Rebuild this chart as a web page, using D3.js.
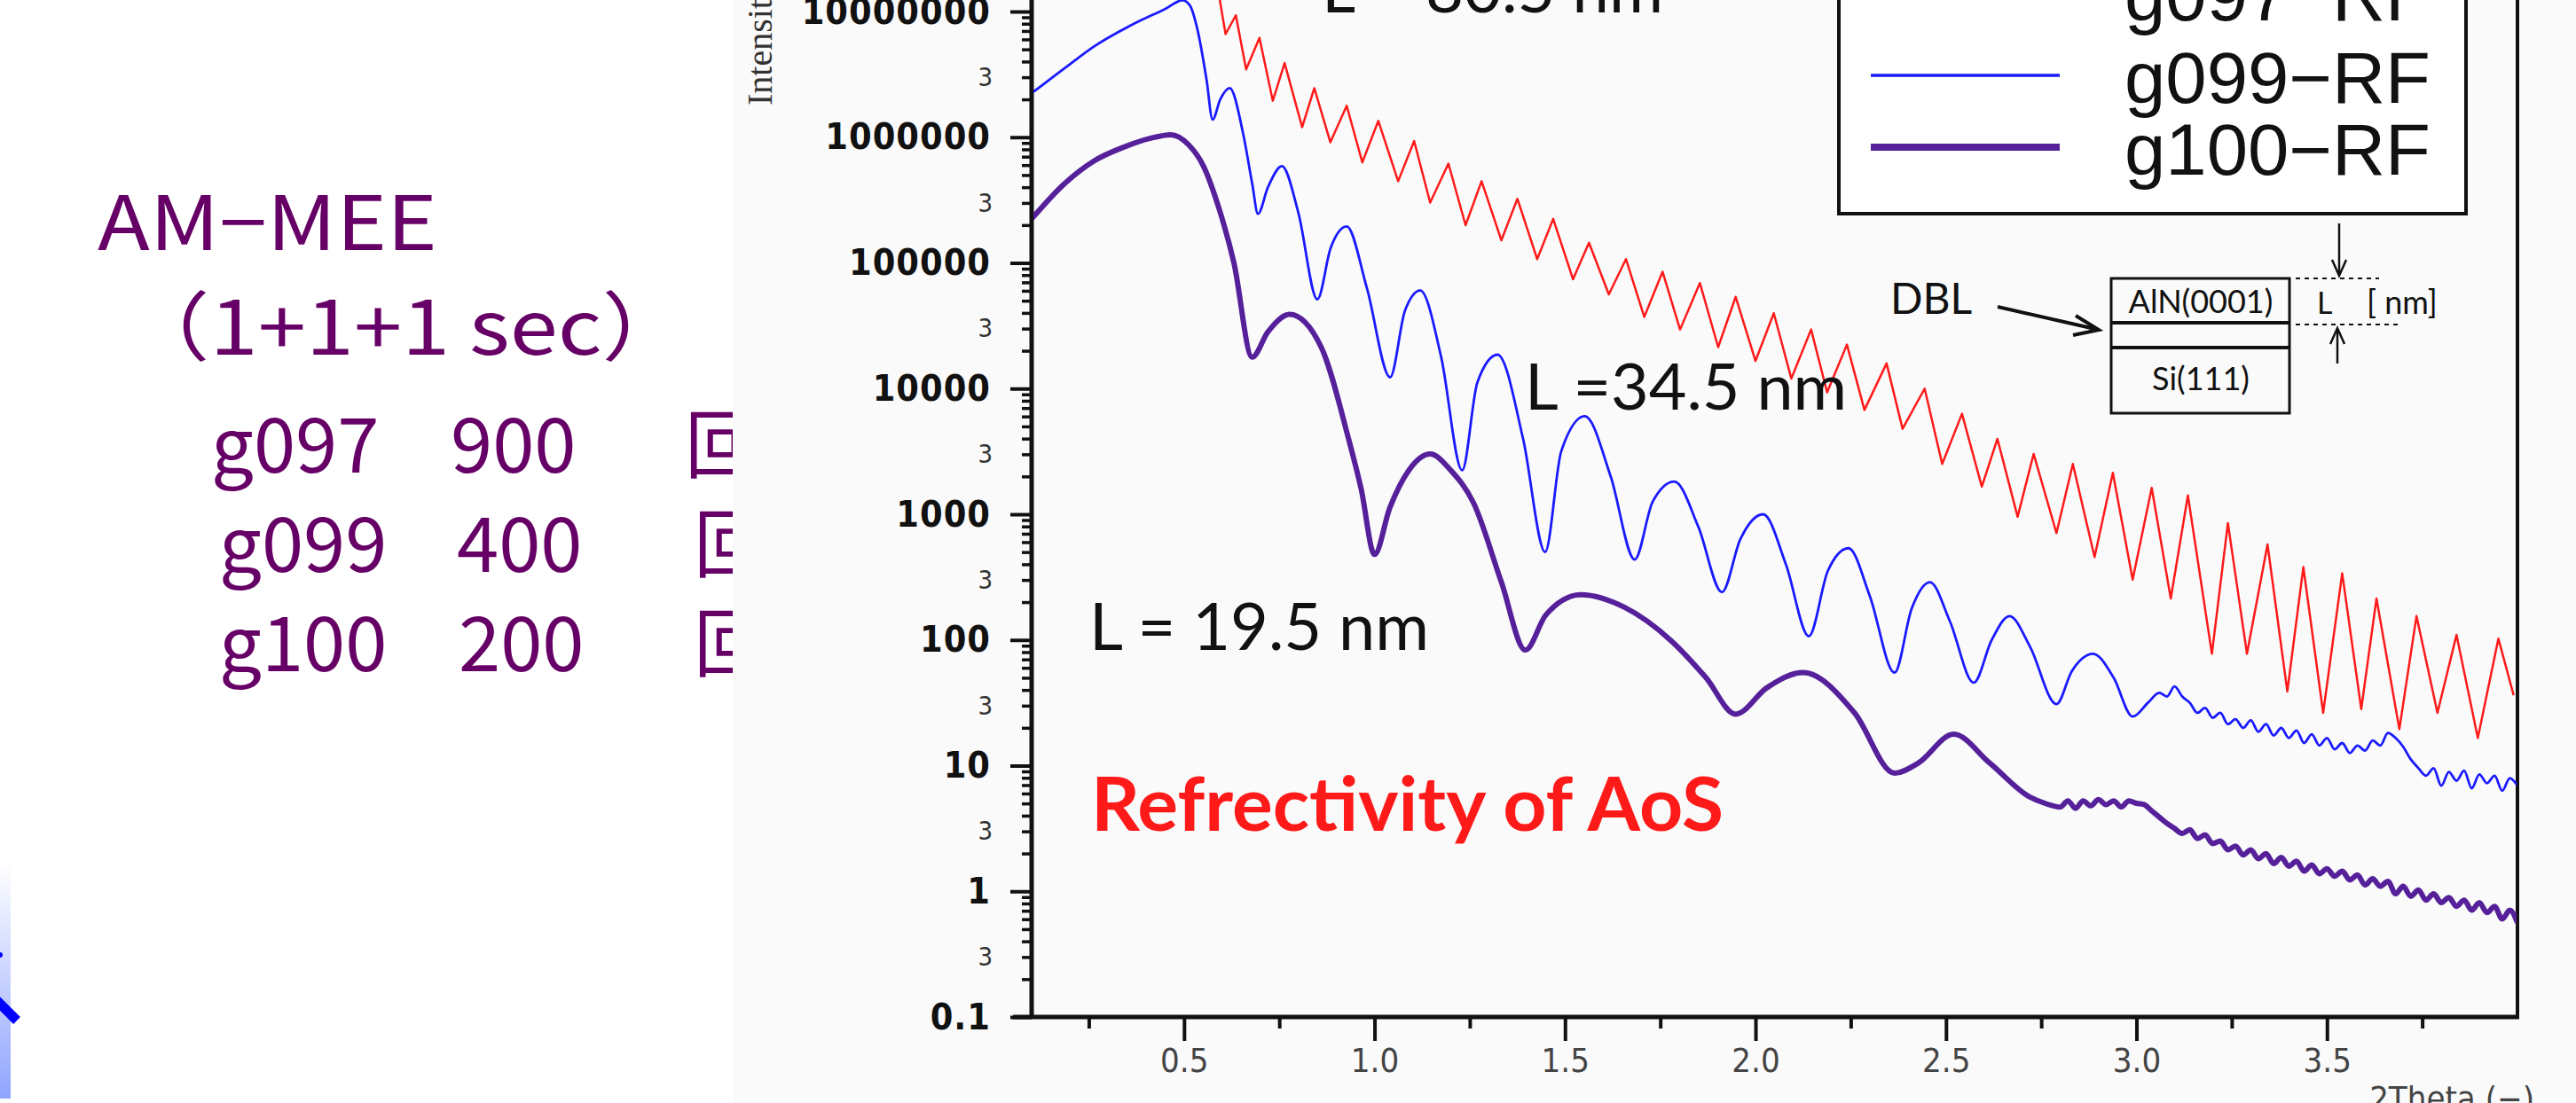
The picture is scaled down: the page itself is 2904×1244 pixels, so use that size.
<!DOCTYPE html>
<html>
<head>
<meta charset="utf-8">
<script src="https://d3js.org/d3.v7.min.js"></script>
<style>
  body { margin: 0; background: #fff; }
  svg { display: block; }
  .slide { fill: #660066; font-family: "Noto Sans CJK JP", "Noto Sans", sans-serif; font-size: 85px; }
  .tick text { font-family: "DejaVu Sans Condensed", "DejaVu Sans", sans-serif; }
  .note { font-family: Lato, "Open Sans", sans-serif; fill: #111; }
</style>
</head>
<body>
<svg id="chart" width="2904" height="1244"></svg>
<script>
// ---- data (2Theta in degrees, log10 of intensity in cps) ----
const seriesNames = ["g097\u2212RF", "g099\u2212RF", "g100\u2212RF"];
const seriesColors = ["#ff1a1a", "#1a1aff", "#55209a"];

const g097Log = [
  [0.56, 7.5], [0.594, 7.09], [0.609, 6.82], [0.636, 6.97], [0.663, 6.54], [0.698, 6.79],
  [0.733, 6.29], [0.764, 6.59], [0.81, 6.08], [0.842, 6.39], [0.884, 5.96], [0.927, 6.25],
  [0.968, 5.80], [1.010, 6.13], [1.062, 5.65], [1.104, 5.97], [1.146, 5.48], [1.194, 5.79],
  [1.239, 5.30], [1.281, 5.65], [1.333, 5.18], [1.375, 5.51], [1.427, 5.03], [1.469, 5.35],
  [1.521, 4.87], [1.563, 5.16], [1.615, 4.75], [1.660, 5.03], [1.708, 4.57], [1.756, 4.93],
  [1.802, 4.47], [1.854, 4.84], [1.902, 4.33], [1.948, 4.73], [2.000, 4.22], [2.048, 4.60],
  [2.094, 4.08], [2.146, 4.47], [2.188, 3.97], [2.240, 4.35], [2.286, 3.83], [2.344, 4.20],
  [2.386, 3.68], [2.444, 4.00], [2.490, 3.40], [2.542, 3.80], [2.594, 3.22], [2.635, 3.60],
  [2.688, 2.98], [2.730, 3.48], [2.790, 2.85], [2.833, 3.40], [2.890, 2.66], [2.938, 3.33],
  [2.990, 2.48], [3.040, 3.21], [3.090, 2.33], [3.135, 3.15], [3.198, 1.89], [3.240, 2.93],
  [3.290, 1.89], [3.344, 2.76], [3.396, 1.59], [3.438, 2.58], [3.490, 1.42], [3.540, 2.53],
  [3.590, 1.45], [3.630, 2.33], [3.690, 1.29], [3.735, 2.19], [3.790, 1.42], [3.840, 2.04],
  [3.896, 1.22], [3.950, 2.01], [3.990, 1.56]
];

const g099Log = [
  [0.1, 6.35], [0.2, 6.58], [0.263, 6.72], [0.38, 6.92], [0.45, 7.02], [0.496, 7.09],
  [0.515, 7.05], [0.535, 6.86], [0.559, 6.46], [0.575, 6.14], [0.595, 6.30], [0.62, 6.39],
  [0.655, 6.03], [0.679, 5.63], [0.694, 5.39], [0.72, 5.60], [0.757, 5.77], [0.80, 5.40],
  [0.85, 4.71], [0.885, 5.12], [0.927, 5.29], [0.98, 4.80], [1.041, 4.09], [1.08, 4.62],
  [1.12, 4.78], [1.175, 4.25], [1.23, 3.35], [1.27, 4.05], [1.323, 4.27], [1.39, 3.60],
  [1.448, 2.70], [1.49, 3.50], [1.552, 3.78], [1.62, 3.30], [1.683, 2.64], [1.73, 3.10],
  [1.787, 3.26], [1.85, 2.90], [1.912, 2.38], [1.96, 2.80], [2.02, 3.00], [2.08, 2.60],
  [2.14, 2.03], [2.19, 2.55], [2.244, 2.73], [2.30, 2.35], [2.365, 1.74], [2.41, 2.25],
  [2.458, 2.46], [2.51, 2.15], [2.573, 1.66], [2.62, 2.00], [2.667, 2.19], [2.72, 1.95],
  [2.79, 1.49], [2.83, 1.75], [2.886, 1.89], [2.94, 1.70], [2.99, 1.39], [3.03, 1.50],
  [3.06, 1.58], [3.08, 1.55], [3.10, 1.63], [3.12, 1.55], [3.14, 1.50], [3.16, 1.42],
  [3.18, 1.46], [3.20, 1.38], [3.22, 1.42], [3.24, 1.33], [3.26, 1.37], [3.28, 1.30],
  [3.30, 1.36], [3.32, 1.27], [3.34, 1.33], [3.36, 1.24], [3.38, 1.30], [3.40, 1.22],
  [3.42, 1.28], [3.44, 1.18], [3.46, 1.25], [3.48, 1.16], [3.50, 1.22], [3.52, 1.13],
  [3.54, 1.18], [3.56, 1.10], [3.58, 1.16], [3.60, 1.12], [3.62, 1.20], [3.64, 1.16],
  [3.66, 1.26], [3.68, 1.22], [3.70, 1.15], [3.72, 1.05], [3.74, 0.98], [3.76, 0.92],
  [3.78, 0.98], [3.80, 0.84], [3.82, 0.95], [3.84, 0.88], [3.86, 0.96], [3.88, 0.82],
  [3.90, 0.93], [3.92, 0.86], [3.94, 0.92], [3.96, 0.80], [3.98, 0.90], [4.00, 0.84]
];

const g100Log = [
  [0.1, 5.35], [0.186, 5.63], [0.263, 5.81], [0.341, 5.92], [0.41, 5.99], [0.465, 6.02],
  [0.512, 5.94], [0.551, 5.77], [0.59, 5.45], [0.631, 5.00], [0.679, 4.25], [0.72, 4.45],
  [0.777, 4.59], [0.86, 4.33], [0.931, 3.61], [0.965, 3.20], [1.0, 2.68], [1.04, 3.05],
  [1.09, 3.35], [1.146, 3.48], [1.20, 3.35], [1.26, 3.09], [1.333, 2.46], [1.396, 1.92],
  [1.45, 2.20], [1.542, 2.36], [1.656, 2.26], [1.78, 1.99], [1.87, 1.70], [1.948, 1.41],
  [2.03, 1.62], [2.125, 1.74], [2.26, 1.42], [2.365, 0.94], [2.427, 1.02], [2.52, 1.25],
  [2.615, 1.02], [2.72, 0.75], [2.76, 0.70], [2.80, 0.67], [2.82, 0.72], [2.84, 0.66],
  [2.86, 0.72], [2.88, 0.68], [2.90, 0.73], [2.92, 0.69], [2.94, 0.72], [2.96, 0.67],
  [2.98, 0.72], [3.00, 0.70], [3.02, 0.69], [3.04, 0.64], [3.06, 0.59], [3.08, 0.54],
  [3.10, 0.50], [3.12, 0.46], [3.14, 0.49], [3.16, 0.42], [3.18, 0.45], [3.20, 0.38],
  [3.22, 0.40], [3.24, 0.33], [3.26, 0.36], [3.28, 0.29], [3.30, 0.33], [3.32, 0.26],
  [3.34, 0.30], [3.36, 0.22], [3.38, 0.27], [3.40, 0.20], [3.42, 0.24], [3.44, 0.16],
  [3.46, 0.21], [3.48, 0.14], [3.50, 0.18], [3.52, 0.12], [3.54, 0.16], [3.56, 0.09],
  [3.58, 0.13], [3.60, 0.05], [3.62, 0.10], [3.64, 0.04], [3.66, 0.08], [3.68, -0.02],
  [3.70, 0.04], [3.72, -0.04], [3.74, 0.01], [3.76, -0.07], [3.78, -0.02], [3.80, -0.09],
  [3.82, -0.05], [3.84, -0.12], [3.86, -0.07], [3.88, -0.15], [3.90, -0.09], [3.92, -0.17],
  [3.94, -0.12], [3.96, -0.22], [3.98, -0.15], [4.00, -0.25]
];

const decadeTicks = [0.1, 1, 10, 100, 1000, 10000, 100000, 1000000, 10000000];
const decadeLabels = ["0.1", "1", "10", "100", "1000", "10000", "100000", "1000000", "10000000"];
const xTicks = [0.5, 1.0, 1.5, 2.0, 2.5, 3.0, 3.5];
const xTickLabels = ["0.5", "1.0", "1.5", "2.0", "2.5", "3.0", "3.5"];
const xMinorTicks = [0.25, 0.75, 1.25, 1.75, 2.25, 2.75, 3.25, 3.75];

const sampleRows = [["g097", "900", "\u56de"], ["g099", "400", "\u56de"], ["g100", "200", "\u56de"]];
const thicknessNotes = ["L = 80.5 nm", "L =34.5 nm", "L = 19.5 nm"];

// ---- layout ----
const svg = d3.select("#chart");
const plot = { left: 1163, right: 2838, bottom: 1147, decade: 141.75 };

const xScale = d3.scaleLinear().domain([0.1, 4.0]).range([plot.left, plot.right]);
const yScale = d3.scaleLog().domain([0.1, 1e8])
  .range([plot.bottom, plot.bottom - 9 * plot.decade]);

// slide text on the left
svg.append("text").attr("class", "slide")
  .attr("x", 110).attr("y", 282).attr("textLength", 383).attr("lengthAdjust", "spacingAndGlyphs")
  .text("AM\u2212MEE");
svg.append("text").attr("class", "slide")
  .attr("x", 139).attr("y", 400).attr("textLength", 637).attr("lengthAdjust", "spacingAndGlyphs")
  .text("\uff081+1+1 sec\uff09");
const rowY = [533, 645, 757];
const rowX = [[238, 508, 772], [247, 515, 782], [247, 517, 782]];
sampleRows.forEach((row, i) => {
  row.forEach((s, j) => {
    svg.append("text").attr("class", "slide")
      .attr("x", rowX[i][j]).attr("y", rowY[i]).text(s);
  });
});

// blue arrow fragment at the bottom-left edge
const grad = svg.append("defs").append("linearGradient")
  .attr("id", "fade").attr("x1", 0).attr("x2", 0).attr("y1", 0).attr("y2", 1);
grad.append("stop").attr("offset", "0%").attr("stop-color", "#ffffff");
grad.append("stop").attr("offset", "100%").attr("stop-color", "#90a4ff");
svg.append("rect").attr("x", 0).attr("y", 973).attr("width", 12).attr("height", 266)
  .attr("fill", "url(#fade)");
svg.append("line").attr("x1", -4).attr("y1", 1128).attr("x2", 19).attr("y2", 1151)
  .attr("stroke", "#0000ff").attr("stroke-width", 11);
svg.append("circle").attr("cx", 0).attr("cy", 1077).attr("r", 3).attr("fill", "#0000ff");

// chart panel (covers the slide text behind it)
svg.append("rect").attr("x", 826).attr("y", 0).attr("width", 2904 - 826).attr("height", 1244)
  .attr("fill", "#fafafa");

// y axis label
svg.append("text")
  .attr("transform", "translate(870,119) rotate(-90)")
  .attr("font-family", "Liberation Serif, serif").attr("font-size", 40).attr("fill", "#333")
  .text("Intensity (cps)");

// x axis
const xAxis = svg.append("g").attr("transform", `translate(0,${plot.bottom})`);
xAxis.call(d3.axisBottom(xScale).tickValues(xTicks)
  .tickFormat((d, i) => xTickLabels[i]).tickSize(27).tickPadding(8));
xAxis.selectAll(".tick line").attr("stroke", "#111").attr("stroke-width", 4);
xAxis.selectAll(".tick text").attr("font-size", 38).attr("fill", "#444");
xAxis.select(".domain").remove();

const xMinor = svg.append("g").attr("transform", `translate(0,${plot.bottom})`);
xMinor.call(d3.axisBottom(xScale).tickValues(xMinorTicks).tickFormat("").tickSize(13));
xMinor.selectAll(".tick line").attr("stroke", "#111").attr("stroke-width", 4);
xMinor.select(".domain").remove();

// y axis: decades, minor ticks, "3" marks
const yAxis = svg.append("g").attr("transform", `translate(${plot.left},0)`);
yAxis.call(d3.axisLeft(yScale).tickValues(decadeTicks)
  .tickFormat((d, i) => decadeLabels[i]).tickSize(24).tickPadding(22));
yAxis.selectAll(".tick line").attr("stroke", "#111").attr("stroke-width", 4);
yAxis.selectAll(".tick text").attr("font-size", 41).attr("font-weight", "bold")
  .attr("fill", "#111").attr("letter-spacing", 1);
yAxis.select(".domain").remove();

const minorValues = [];
decadeTicks.forEach(d => { for (let k = 2; k <= 9; k++) minorValues.push(d * k); });
const yMinor = svg.append("g").attr("transform", `translate(${plot.left},0)`);
yMinor.call(d3.axisLeft(yScale).tickValues(minorValues)
  .tickFormat(d => Math.round(d / Math.pow(10, Math.floor(Math.log10(d) + 1e-9))) === 3 ? "3" : "")
  .tickSize(11).tickPadding(33));
yMinor.selectAll(".tick line").attr("stroke", "#111").attr("stroke-width", 3.5);
yMinor.selectAll(".tick text").attr("font-size", 29).attr("fill", "#333");
yMinor.select(".domain").remove();

// frame
svg.append("line").attr("x1", plot.left - 21).attr("x2", plot.right + 2)
  .attr("y1", plot.bottom).attr("y2", plot.bottom).attr("stroke", "#111").attr("stroke-width", 5);
svg.append("line").attr("x1", plot.left).attr("x2", plot.left)
  .attr("y1", 0).attr("y2", plot.bottom).attr("stroke", "#111").attr("stroke-width", 5);
svg.append("line").attr("x1", plot.right).attr("x2", plot.right)
  .attr("y1", 0).attr("y2", plot.bottom).attr("stroke", "#111").attr("stroke-width", 4);

svg.append("text").attr("x", 2857).attr("y", 1252).attr("text-anchor", "end")
  .attr("font-family", "DejaVu Sans Condensed, sans-serif").attr("font-size", 38).attr("fill", "#444")
  .text("2Theta (\u2212)");

// curves
svg.append("clipPath").attr("id", "plotClip").append("rect")
  .attr("x", plot.left + 2).attr("y", -10).attr("width", plot.right - plot.left - 3)
  .attr("height", plot.bottom + 8);

const lineSharp = d3.line().x(d => xScale(d[0])).y(d => yScale(Math.pow(10, d[1])));
const lineSmooth = d3.line().x(d => xScale(d[0])).y(d => yScale(Math.pow(10, d[1])))
  .curve(d3.curveMonotoneX);

const curves = svg.append("g").attr("clip-path", "url(#plotClip)");
curves.append("path").datum(g097Log).attr("d", lineSharp)
  .attr("fill", "none").attr("stroke", seriesColors[0]).attr("stroke-width", 2.5)
  .attr("stroke-linejoin", "round");
curves.append("path").datum(g099Log).attr("d", lineSmooth)
  .attr("fill", "none").attr("stroke", seriesColors[1]).attr("stroke-width", 2.8);
curves.append("path").datum(g100Log).attr("d", lineSmooth)
  .attr("fill", "none").attr("stroke", seriesColors[2]).attr("stroke-width", 6)
  .attr("stroke-linejoin", "round");

// legend
svg.append("rect").attr("x", 2073).attr("y", -60).attr("width", 707).attr("height", 301)
  .attr("fill", "#fff").attr("stroke", "#111").attr("stroke-width", 4);
const legendY = [-8, 85, 166];
const legendW = [2.5, 3.5, 8];
seriesNames.forEach((name, i) => {
  svg.append("line").attr("x1", 2109).attr("x2", 2322)
    .attr("y1", legendY[i]).attr("y2", legendY[i])
    .attr("stroke", seriesColors[i]).attr("stroke-width", legendW[i]);
  svg.append("text").attr("x", 2395).attr("y", legendY[i] + 31)
    .attr("font-family", "Liberation Sans, Arial, sans-serif").attr("font-size", 82).attr("fill", "#111")
    .attr("textLength", 345).attr("lengthAdjust", "spacingAndGlyphs")
    .text(name);
});

// thickness notes and title
svg.append("text").attr("class", "note").attr("x", 1490).attr("y", 14)
  .attr("font-size", 74).attr("textLength", 385).attr("lengthAdjust", "spacingAndGlyphs")
  .text(thicknessNotes[0]);
svg.append("text").attr("class", "note").attr("x", 1719).attr("y", 462)
  .attr("font-size", 72).attr("textLength", 363).attr("lengthAdjust", "spacingAndGlyphs")
  .text(thicknessNotes[1]);
svg.append("text").attr("class", "note").attr("x", 1228).attr("y", 733)
  .attr("font-size", 74).attr("textLength", 383).attr("lengthAdjust", "spacingAndGlyphs")
  .text(thicknessNotes[2]);
svg.append("text").attr("x", 1230).attr("y", 937)
  .attr("font-family", "Lato, sans-serif").attr("font-weight", "bold").attr("font-size", 84)
  .attr("fill", "#ff1a1a").attr("textLength", 713).attr("lengthAdjust", "spacingAndGlyphs")
  .text("Refrectivity of AoS");

// DBL layer sketch
const dbl = svg.append("g").attr("stroke", "#111").attr("fill", "none");
dbl.append("rect").attr("x", 2380).attr("y", 314).attr("width", 201).attr("height", 152)
  .attr("stroke-width", 3);
dbl.append("line").attr("x1", 2380).attr("x2", 2581).attr("y1", 364).attr("y2", 364).attr("stroke-width", 4);
dbl.append("line").attr("x1", 2380).attr("x2", 2581).attr("y1", 392).attr("y2", 392).attr("stroke-width", 4);
dbl.append("line").attr("x1", 2588).attr("x2", 2682).attr("y1", 314).attr("y2", 314)
  .attr("stroke-width", 2).attr("stroke-dasharray", "5,5");
dbl.append("line").attr("x1", 2588).attr("x2", 2704).attr("y1", 366).attr("y2", 366)
  .attr("stroke-width", 2).attr("stroke-dasharray", "5,5");
dbl.append("line").attr("x1", 2637).attr("x2", 2637).attr("y1", 252).attr("y2", 309).attr("stroke-width", 2.5);
dbl.append("path").attr("d", "M2629,293 L2637,311 L2645,293").attr("stroke-width", 2.5);
dbl.append("line").attr("x1", 2635).attr("x2", 2635).attr("y1", 410).attr("y2", 372).attr("stroke-width", 2.5);
dbl.append("path").attr("d", "M2627,388 L2635,370 L2643,388").attr("stroke-width", 2.5);
dbl.append("line").attr("x1", 2252).attr("x2", 2362).attr("y1", 346).attr("y2", 371).attr("stroke-width", 4);
dbl.append("path").attr("d", "M2340,356 L2366,372 L2337,378").attr("stroke-width", 4);

const dblText = [
  { t: "DBL", x: 2131, y: 354, s: 48, a: "start" },
  { t: "AlN(0001)", x: 2481, y: 353, s: 36, a: "middle" },
  { t: "Si(111)", x: 2481, y: 440, s: 36, a: "middle" },
  { t: "L", x: 2612, y: 354, s: 34, a: "start" },
  { t: "[ nm]", x: 2668, y: 354, s: 36, a: "start" }
];
dblText.forEach(d => {
  svg.append("text").attr("x", d.x).attr("y", d.y).attr("text-anchor", d.a)
    .attr("font-family", "Lato, sans-serif").attr("font-size", d.s).attr("fill", "#111")
    .text(d.t);
});
</script>
</body>
</html>
